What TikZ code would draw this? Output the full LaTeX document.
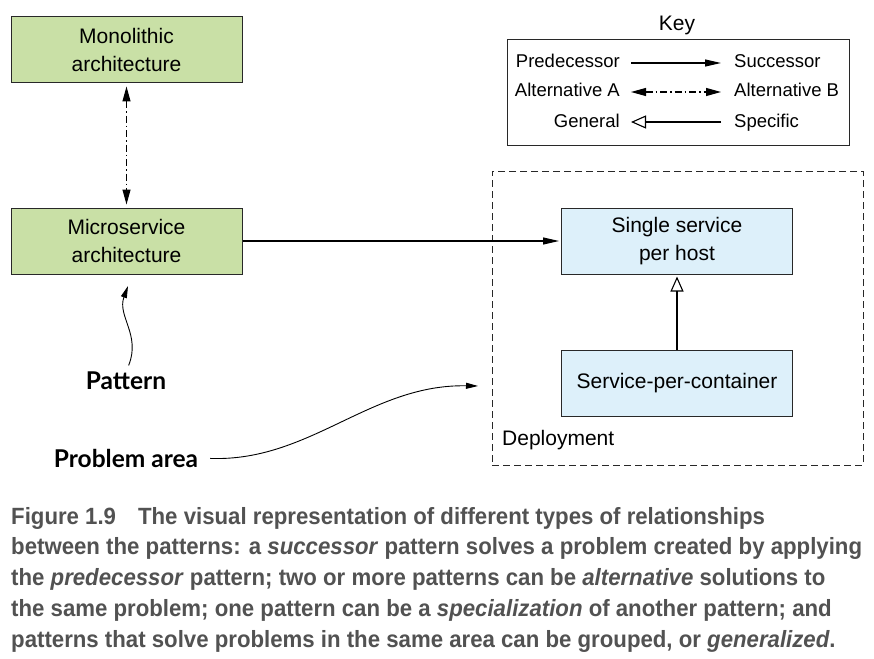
\documentclass[tikz,border=0pt]{standalone}
\usepackage{fontspec}
\setmainfont{Liberation Sans}
\newfontfamily\calloutfont{Lato}
\newfontfamily\captionfont[FakeStretch=0.945]{Liberation Sans}
\usetikzlibrary{arrows.meta}

\definecolor{patterngreen}{RGB}{201,224,166}
\definecolor{deployblue}{RGB}{221,240,250}
\definecolor{edgegray}{RGB}{40,40,40}
\definecolor{captiongray}{RGB}{82,82,82}

\tikzset{
    patternbox/.style={draw=edgegray, line width=1pt, minimum width=231, minimum height=66,
        align=center, inner sep=0, font=\fontsize{21}{27.5}\selectfont},
    keytext/.style={inner sep=0, text height=14, text depth=4, font=\fontsize{18.5}{22}\selectfont},
    succ/.style={line width=1.1pt, -{Triangle[length=16pt, width=7pt]}},
    alt/.style={line width=1.1pt, {Triangle[length=15pt, width=8pt]}-{Triangle[length=15pt, width=8pt]},
        dash pattern=on 7pt off 3pt on 1.5pt off 3pt},
    spec/.style={line width=1.1pt, -{Triangle[open, length=15pt, width=13pt]}},
    callout/.style={inner sep=0, font=\calloutfont\bfseries\fontsize{24.5}{28}\selectfont},
    curvy/.style={line width=0.9pt, -{Triangle[length=12pt, width=6pt]}}
}

\begin{document}
\begin{tikzpicture}[x=1pt, y=-1pt]

    \useasboundingbox[fill=white] (0,0) rectangle (874,658);

    % Key
    \node[font=\fontsize{21}{25}\selectfont] (keytitle) at (677,25) {Key};
    \node[draw=edgegray, line width=1pt, minimum width=342, minimum height=105, inner sep=0] (key) at (678,92.5) {};
    \node[keytext, anchor=east] (pred) at (620,63) {Predecessor};
    \node[keytext, anchor=west] (succ) at (734,63) {Successor};
    \node[keytext, anchor=east] (alta) at (620,92) {Alternative A};
    \node[keytext, anchor=west] (altb) at (734,92) {Alternative B};
    \node[keytext, anchor=east] (general) at (620,122) {General};
    \node[keytext, anchor=west] (specific) at (734,122) {Specific};

    \draw[succ, shorten <=11pt, shorten >=13pt] (pred.east) -- (succ.west);
    \draw[alt, shorten <=11pt, shorten >=13pt] (alta.east) -- (altb.west);
    \draw[spec, shorten <=13pt, shorten >=11pt] (specific.west) -- (general.east);

    % Deployment group
    \node[draw=edgegray, line width=1pt, dash pattern=on 7pt off 4pt,
    minimum width=371, minimum height=294, inner sep=0] (deploy) at (677.5,318) {};
    \node[anchor=west, inner sep=0, font=\fontsize{21}{25}\selectfont] (deploylabel) at (502,440) {Deployment};

    % Patterns
    \node[patternbox, fill=patterngreen] (mono) at (126.5,50) {Monolithic\\architecture};
    \node[patternbox, fill=patterngreen] (micro) at (126.5,241) {Microservice\\architecture};
    \node[patternbox, fill=deployblue] (single) at (677,241) {Single service\\per host};
    \node[patternbox, fill=deployblue] (container) at (677,383) {Service-per-container};

    % Relationships
    \draw[alt, shorten <=3pt, shorten >=3pt] (mono) -- (micro);
    \draw[succ, shorten >=2pt] (micro) -- (single);
    \draw[spec, shorten >=2pt] (container) -- (single);

    % Callouts
    \node[callout] (pattern) at (126,381) {Pattern};
    \node[callout] (problem) at (126,458) {Problem area};
    \coordinate (patterntip) at (128,286);
    \coordinate (areatip) at (478,386);

    \draw[curvy, shorten <=7pt] (pattern.north) .. controls (141,335) and (117,316) .. (patterntip);
    \draw[curvy, shorten <=12pt] (problem.east) .. controls (310,462) and (370,384) .. (areatip);

    % Caption
    \node[anchor=north west, inner sep=0, align=left, text=captiongray,
    font=\captionfont\bfseries\fontsize{23.5}{30.7}\selectfont] (caption) at (11,507)
    {Figure 1.9\hspace{22pt}The visual representation of different types of relationships\\
    between the patterns: a \textit{successor} pattern solves a problem created by applying\\
    the \textit{predecessor} pattern; two or more patterns can be \textit{alternative} solutions to\\
    the same problem; one pattern can be a \textit{specialization} of another pattern; and\\
    patterns that solve problems in the same area can be grouped, or \textit{generalized}.};

\end{tikzpicture}
\end{document}
